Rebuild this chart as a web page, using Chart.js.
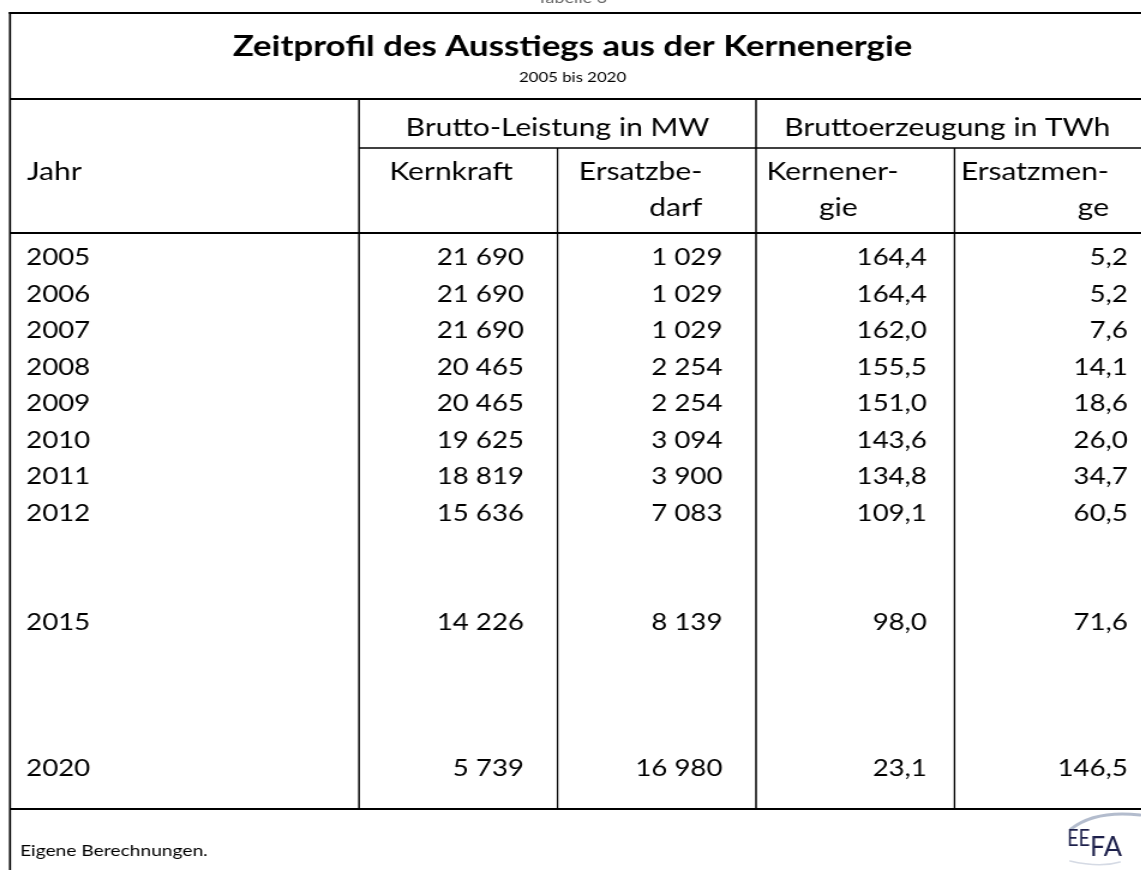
<!DOCTYPE html>
<html lang="de">
<head>
<meta charset="utf-8">
<title>Zeitprofil des Ausstiegs aus der Kernenergie</title>
<script src="https://cdn.jsdelivr.net/npm/chart.js@4.4.1/dist/chart.umd.min.js"></script>
<style>
  html, body { margin: 0; padding: 0; background: #fff; overflow: hidden; }
</style>
</head>
<body>
<!-- the source table is stretched sideways, so the canvas is shown wider than it is drawn -->
<canvas id="tabelle" width="970" height="870" style="display:block;width:1164px;height:870px"></canvas>
<script>
// rows of the table (blank entries are the empty rows before 2015 and 2020)
const years = ['2005', '2006', '2007', '2008', '2009', '2010', '2011', '2012', '2015', '2020'];
const rowLabels = ['2005', '2006', '2007', '2008', '2009', '2010', '2011', '2012', '', '', '2015', '', '', '', '2020'];

// Brutto-Leistung in MW
const kernkraftMW    = [21690, 21690, 21690, 20465, 20465, 19625, 18819, 15636, 14226, 5739];
const ersatzbedarfMW = [1029, 1029, 1029, 2254, 2254, 3094, 3900, 7083, 8139, 16980];
// Bruttoerzeugung in TWh
const kernenergieTWh = [164.4, 164.4, 162.0, 155.5, 151.0, 143.6, 134.8, 109.1, 98.0, 23.1];
const ersatzmengeTWh = [5.2, 5.2, 7.6, 14.1, 18.6, 26.0, 34.7, 60.5, 71.6, 146.5];

const groupHeaders  = ['Brutto-Leistung in MW', 'Bruttoerzeugung in TWh'];
const columnHeaders = [['Kernkraft'], ['Ersatzbe-', 'darf'], ['Kernener-', 'gie'], ['Ersatzmen-', 'ge']];

const fmtMW  = v => String(v).replace(/\B(?=(\d{3})+(?!\d))/g, ' ');
const fmtTWh = v => v.toFixed(1).replace('.', ',');

const columns = [kernkraftMW, ersatzbedarfMW, kernenergieTWh, ersatzmengeTWh];
const formats = [fmtMW, fmtMW, fmtTWh, fmtTWh];

Chart.defaults.font.family = 'Lato';
Chart.defaults.color = '#000';

const SX = 1.2;            // horizontal stretch of the page
const frameLeft = 10 / SX;
const shiftLeft = 7.5;     // title sits a little left of the frame centre

// writes the numbers into their cells
const tableCells = {
  id: 'tableCells',
  afterDatasetsDraw(chart) {
    const {ctx, scales: {x}} = chart;
    const pad = [28, 28, 23, 21];
    ctx.save();
    ctx.font = '23px Lato';
    ctx.fillStyle = '#000';
    ctx.textAlign = 'right';
    ctx.textBaseline = 'middle';
    chart.data.datasets.forEach((ds, k) => {
      const right = x.getPixelForValue(k + 1) - pad[k];
      chart.getDatasetMeta(k).data.forEach((pt, i) => {
        ctx.fillText(formats[k](columns[k][i]), right, pt.y);
      });
    });
    ctx.restore();
  }
};

// rules, column headers, source note and logo
const tableFrame = {
  id: 'tableFrame',
  afterDraw(chart) {
    const {ctx, scales: {x}} = chart;
    const cx = [0, 1, 2, 3, 4].map(v => x.getPixelForValue(v));
    const right = cx[4];
    ctx.save();
    ctx.strokeStyle = '#000';

    const hline = (y, x1, x2, w) => {
      ctx.lineWidth = w; ctx.beginPath(); ctx.moveTo(x1, y); ctx.lineTo(x2, y); ctx.stroke();
    };
    const vline = (xx, y1, y2, w) => {
      ctx.lineWidth = w; ctx.beginPath(); ctx.moveTo(xx, y1); ctx.lineTo(xx, y2); ctx.stroke();
    };

    hline(13, frameLeft - 1, right + 1, 2);
    hline(99, frameLeft, right, 2);
    hline(148, cx[0], right, 1.4);
    hline(233, frameLeft, right, 2);
    hline(809, frameLeft, right, 2);
    vline(frameLeft, 12, 880, 1.7);
    vline(right, 12, 880, 1.7);
    vline(cx[0], 99, 809, 1.5);
    vline(cx[2], 99, 809, 1.5);
    vline(cx[1], 148, 809, 1.3);
    vline(cx[3], 148, 809, 1.3);

    ctx.fillStyle = '#000';
    ctx.textBaseline = 'middle';
    ctx.font = '25px Lato';

    // group headers
    ctx.textAlign = 'center';
    ctx.fillText(groupHeaders[0], (cx[0] + cx[2]) / 2, 128);
    ctx.fillText(groupHeaders[1], (cx[2] + cx[4]) / 2 - 6, 128);

    // column headers: [alignment, offset from column centre]
    const place = [['center', -6], ['right', 38], ['center', -19, -14], ['right', 46]];
    columnHeaders.forEach((lines, k) => {
      const mid = (cx[k] + cx[k + 1]) / 2;
      const [align, ...dx] = place[k];
      ctx.textAlign = align;
      lines.forEach((t, j) => ctx.fillText(t, mid + (dx[j] ?? dx[0]), 172 + j * 36));
    });

    ctx.textAlign = 'left';
    ctx.fillText('Jahr', 27 / SX, 172);

    // source note
    ctx.font = '16px Lato';
    ctx.fillText('Eigene Berechnungen.', 20 / SX, 851);

    // caption above the frame, cut off by the page edge
    ctx.fillStyle = '#666';
    ctx.textAlign = 'center';
    ctx.textBaseline = 'alphabetic';
    ctx.font = '15px Lato';
    ctx.fillText('Tabelle 3', 572 / SX, 3);

    // EEFA logo
    ctx.strokeStyle = '#b3bccd';
    ctx.lineWidth = 3;
    ctx.lineCap = 'round';
    ctx.beginPath();
    ctx.moveTo(1071 / SX, 829);
    ctx.quadraticCurveTo(1095 / SX, 810, 1140 / SX, 815);
    ctx.stroke();
    ctx.lineWidth = 1.5;
    ctx.strokeStyle = '#d5dae4';
    ctx.beginPath();
    ctx.moveTo(1070 / SX, 861);
    ctx.quadraticCurveTo(1100 / SX, 868, 1120 / SX, 862);
    ctx.stroke();
    ctx.fillStyle = '#1c1f4a';
    ctx.textAlign = 'left';
    ctx.textBaseline = 'alphabetic';
    ctx.font = '24px Lato';
    ctx.fillText('EE', 1067 / SX, 846, 23 / SX);
    ctx.font = '26px Lato';
    ctx.fillText('FA', 1090 / SX, 856, 32 / SX);
    ctx.restore();
  }
};

new Chart(document.getElementById('tabelle'), {
  type: 'scatter',
  data: {
    datasets: columns.map((values, k) => ({
      label: columnHeaders[k].join(''),
      data: values.map((v, i) => ({x: k + 0.5, y: years[i]})),
      pointRadius: 0,
      pointHoverRadius: 0,
      showLine: false
    }))
  },
  options: {
    responsive: false,
    animation: false,
    events: [],
    layout: {
      padding: {left: frameLeft - 2 * shiftLeft, right: 970 - 1153 / SX, top: 13, bottom: 82.75}
    },
    scales: {
      x: {type: 'linear', min: 0, max: 4, display: false},
      y: {
        type: 'category',
        labels: rowLabels,
        offset: true,
        grid: {display: false, drawTicks: false},
        border: {display: false},
        ticks: {crossAlign: 'near', padding: 224, autoSkip: false, color: '#000', font: {size: 23}},
        afterFit(scale) {
          scale.width = 359 / SX - frameLeft + 2 * shiftLeft;
          // the wide label padding is only horizontal here
          scale.paddingTop = 0;
          scale.paddingBottom = 0;
        }
      }
    },
    plugins: {
      legend: {display: false},
      tooltip: {enabled: false},
      title: {
        display: true,
        text: 'Zeitprofil des Ausstiegs aus der Kernenergie',
        color: '#000',
        font: {size: 29, weight: 'bold'},
        padding: {top: 16, bottom: 0}
      },
      subtitle: {
        display: true,
        text: '2005 bis 2020',
        color: '#000',
        font: {size: 14},
        padding: {top: 5, bottom: 154.15}
      }
    }
  },
  plugins: [tableCells, tableFrame]
});
</script>
</body>
</html>
